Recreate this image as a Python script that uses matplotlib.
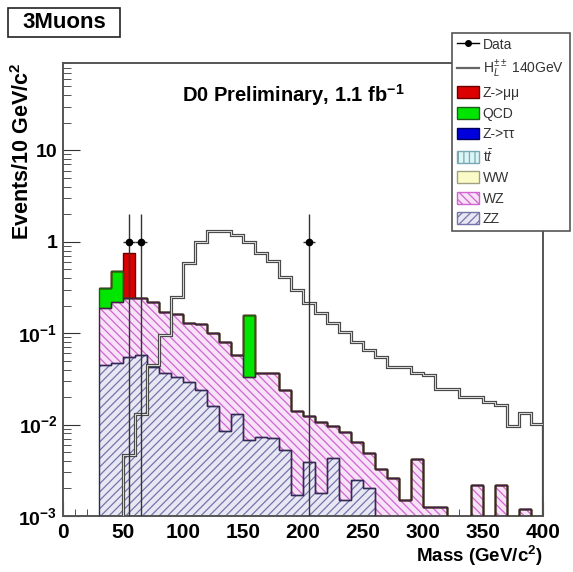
import matplotlib
matplotlib.use("Agg")
import matplotlib.pyplot as plt
import numpy as np
from matplotlib.lines import Line2D
from matplotlib.patches import Patch, Rectangle
from matplotlib.ticker import FixedLocator, LogLocator, MultipleLocator, NullFormatter

plt.rcParams["font.family"] = ["Liberation Sans", "DejaVu Sans"]
plt.rcParams["mathtext.fontset"] = "custom"
plt.rcParams["mathtext.rm"] = "Liberation Sans"
plt.rcParams["mathtext.it"] = "Liberation Sans:italic"
plt.rcParams["mathtext.bf"] = "Liberation Sans:bold"
plt.rcParams["hatch.linewidth"] = 0.9

# 10 GeV bins from 30 to 400 GeV
EDGES = np.arange(30, 401, 10)

# backgrounds, events per bin (stacked bottom -> top)
ZZ = [0.045, 0.047, 0.055, 0.058, 0.042, 0.037, 0.033, 0.029, 0.024, 0.016,
      0.0085, 0.0128, 0.0066, 0.0072, 0.0070, 0.0052, 0.0016, 0.0038, 0.0017, 0.0042,
      0.0014, 0.0024, 0.0019, 0, 0, 0, 0, 0, 0, 0,
      0, 0, 0, 0, 0, 0, 0]
WZ = [0.145, 0.173, 0.185, 0.182, 0.178, 0.133, 0.127, 0.101, 0.101, 0.084,
      0.0705, 0.045, 0.0264, 0.0298, 0.030, 0.0188, 0.0122, 0.0085, 0.0088, 0.0053,
      0.0067, 0.0040, 0.0029, 0.0032, 0.0025, 0.0014, 0.0041, 0.00115, 0.00115, 0,
      0, 0.0021, 0, 0.0021, 0, 0.0011, 0]
QCD = [0.12, 0.26, 0, 0, 0, 0, 0, 0, 0, 0,
       0, 0, 0.125, 0, 0, 0, 0, 0, 0, 0,
       0, 0, 0, 0, 0, 0, 0, 0, 0, 0,
       0, 0, 0, 0, 0, 0, 0]
ZMUMU = [0, 0, 0.52, 0, 0, 0, 0, 0, 0, 0,
         0, 0, 0, 0, 0, 0, 0, 0, 0, 0,
         0, 0, 0, 0, 0, 0, 0, 0, 0, 0,
         0, 0, 0, 0, 0, 0, 0]

# doubly charged Higgs signal, M = 140 GeV
HIGGS = [0, 0, 0.0047, 0.013, 0.045, 0.095, 0.25, 0.58, 1.0, 1.30,
         1.30, 1.17, 1.0, 0.76, 0.61, 0.41, 0.30, 0.215, 0.167, 0.128,
         0.102, 0.080, 0.066, 0.055, 0.043, 0.043, 0.037, 0.035, 0.0245, 0.0245,
         0.020, 0.020, 0.0178, 0.0164, 0.0096, 0.0134, 0.0101]

# observed events
DATA_MASS = [55, 65, 205]
DATA_COUNT = [1, 1, 1]

YMIN, YMAX = 1e-3, 90
FLOOR = 1e-4  # below the visible range, used for empty bins on log scale

WZ_FACE, WZ_HATCH = "#f8e2f8", "#d064d0"
ZZ_FACE, ZZ_HATCH = "#e8e8f4", "#7474aa"

fig = plt.figure(figsize=(5.73, 5.72), dpi=100)
ax = fig.add_axes([63 / 573, 1 - 516 / 572, 480 / 573, 453 / 572])
ax.set_yscale("log")

# ---- stacked backgrounds ----
layers = [
    (ZZ, dict(facecolor=ZZ_FACE, edgecolor=ZZ_HATCH, hatch="////"), "#2c2c58"),
    (WZ, dict(facecolor=WZ_FACE, edgecolor=WZ_HATCH, hatch="\\\\\\\\"), "#4a1a4a"),
    (QCD, dict(facecolor="#00e600", edgecolor="#00e600"), "#1c5c1c"),
    (ZMUMU, dict(facecolor="#dd0000", edgecolor="#dd0000"), "#6a0000"),
]
base = np.full(len(EDGES) - 1, FLOOR)
outlines = []
for vals, style, line_col in layers:
    top = base + np.asarray(vals)
    ax.stairs(top, EDGES, baseline=base, fill=True, lw=0, **style, zorder=2)
    outlines.append((top.copy(), base.copy(), line_col))
    base = top
# outlines: upper layers first so the hatched tops stay dark on top
for top, bot, line_col in reversed(outlines):
    ax.stairs(top, EDGES, baseline=bot, fill=False, color=line_col, lw=1.0, zorder=3)

# ---- signal ----
higgs = np.where(np.asarray(HIGGS) > 0, HIGGS, FLOOR)
ax.stairs(higgs, EDGES, baseline=FLOOR, color="#4a4a4a", lw=2.3, zorder=4)
ax.stairs(higgs, EDGES, baseline=FLOOR, color="#dadada", lw=0.7, zorder=4)

# ---- data ----
mass = np.asarray(DATA_MASS, float)
cnt = np.asarray(DATA_COUNT, float)
err = np.sqrt(cnt)
lo = np.maximum(cnt - err, YMIN)
ax.errorbar(mass, cnt, xerr=5, yerr=[cnt - lo, err], fmt="o", color="black",
            ecolor="#333333", ms=4.5, elinewidth=1.0, capsize=0, zorder=5)

# ---- axes ----
ax.set_xlim(0, 400)
ax.set_ylim(YMIN, YMAX)
ax.xaxis.set_major_locator(MultipleLocator(50))
ax.xaxis.set_minor_locator(MultipleLocator(10))
ax.yaxis.set_major_locator(FixedLocator([1e-3, 1e-2, 1e-1, 1, 10]))
ax.yaxis.set_minor_locator(LogLocator(subs=np.arange(2, 10), numticks=20))
ax.yaxis.set_minor_formatter(NullFormatter())
ax.set_yticklabels([r"$\mathbf{10^{-3}}$", r"$\mathbf{10^{-2}}$", r"$\mathbf{10^{-1}}$",
                    "1", "10"])
ax.tick_params(which="both", direction="in", top=False, right=False, color="#333333")
ax.tick_params(axis="y", which="major", length=12, labelsize=14, pad=4)
ax.tick_params(axis="y", which="minor", length=6)
ax.tick_params(axis="x", which="major", length=10, labelsize=15, pad=5)
ax.tick_params(axis="x", which="minor", length=5)
for lab in ax.get_xticklabels() + ax.get_yticklabels():
    lab.set_fontweight("bold")
for sp in ax.spines.values():
    sp.set_color("#555555")
    sp.set_linewidth(1.4)

ax.set_xlabel(r"Mass (GeV/c$^\mathbf{2}$)", fontsize=13.5, fontweight="bold", loc="right")
ax.xaxis.set_label_coords(1.0, -0.062)
ax.set_ylabel(r"Events/10 GeV/c$^\mathbf{2}$", fontsize=15.5, fontweight="bold", loc="top")
ax.yaxis.set_label_coords(-0.06, 1.0)

fig.text(293 / 573, 1 - 95 / 572, r"D0 Preliminary, 1.1 fb$^\mathbf{-1}$",
         ha="center", va="center", fontsize=14.5, fontweight="bold")

# channel tag
fig.patches.append(Rectangle((8 / 573, 1 - 37 / 572), 112 / 573, 29 / 572,
                             transform=fig.transFigure, fc="white", ec="#222222", lw=1.2))
fig.text(64 / 573, 1 - 22.5 / 572, "3Muons", ha="center", va="center",
         fontsize=16, fontweight="bold")

# ---- legend ----
handles = [
    Line2D([], [], color="black", marker="o", ms=4, lw=1),
    Line2D([], [], color="#666666", lw=1.6),
    Patch(facecolor="#dd0000", edgecolor="#6a0000"),
    Patch(facecolor="#00e600", edgecolor="#1c5c1c"),
    Patch(facecolor="#0000dd", edgecolor="#00005a"),
    Patch(facecolor="#dcf6f6", edgecolor="#78a8b4", hatch="|||"),
    Patch(facecolor="#fbfbc8", edgecolor="#a0a080"),
    Patch(facecolor=WZ_FACE, edgecolor=WZ_HATCH, hatch="\\\\\\\\"),
    Patch(facecolor=ZZ_FACE, edgecolor=ZZ_HATCH, hatch="////"),
]
labels = ["Data", r"H$_L^{\pm\pm}$ 140GeV", "Z->μμ", "QCD", "Z->ττ",
          r"t$\bar{t}$", "WW", "WZ", "ZZ"]
leg = ax.legend(handles, labels, loc="upper left", mode="expand",
                bbox_to_anchor=(452 / 573, 1 - 33 / 572, 118 / 573, 0),
                bbox_transform=fig.transFigure, fontsize=10, labelspacing=0.47,
                handlelength=1.6, handleheight=0.95, handletextpad=0.25,
                borderpad=0.35, borderaxespad=0, fancybox=False, framealpha=1,
                edgecolor="#555555", labelcolor="#333333")
leg.get_frame().set_linewidth(1.2)
leg.set_zorder(10)

fig.savefig("out.png", dpi=100)
